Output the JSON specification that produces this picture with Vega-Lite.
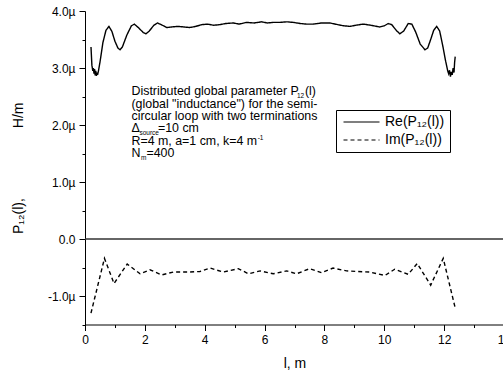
{
  "$schema": "https://vega.github.io/schema/vega-lite/v6.json",
  "width": 419,
  "height": 313.5,
  "autosize": "none",
  "padding": {"left": 85, "top": 11, "right": 0, "bottom": 54},
  "background": "white",
  "config": {
    "view": {"stroke": null},
    "font": "Liberation Sans",
    "axis": {"grid": false, "domainColor": "black", "tickColor": "black", "labelColor": "black", "titleColor": "black", "titleFontWeight": "normal", "labelFont": "Liberation Sans", "titleFont": "Liberation Sans"}
  },
  "datasets": {
    "curves": [
      {"l": 0.20, "v": 3.37, "s": "Re(P₁₂(l))"},
      {"l": 0.23, "v": 3.05, "s": "Re(P₁₂(l))"},
      {"l": 0.26, "v": 2.95, "s": "Re(P₁₂(l))"},
      {"l": 0.28, "v": 3.00, "s": "Re(P₁₂(l))"},
      {"l": 0.30, "v": 2.90, "s": "Re(P₁₂(l))"},
      {"l": 0.32, "v": 2.98, "s": "Re(P₁₂(l))"},
      {"l": 0.34, "v": 2.87, "s": "Re(P₁₂(l))"},
      {"l": 0.36, "v": 2.95, "s": "Re(P₁₂(l))"},
      {"l": 0.38, "v": 2.86, "s": "Re(P₁₂(l))"},
      {"l": 0.40, "v": 2.92, "s": "Re(P₁₂(l))"},
      {"l": 0.42, "v": 2.88, "s": "Re(P₁₂(l))"},
      {"l": 0.45, "v": 2.95, "s": "Re(P₁₂(l))"},
      {"l": 0.50, "v": 3.10, "s": "Re(P₁₂(l))"},
      {"l": 0.60, "v": 3.45, "s": "Re(P₁₂(l))"},
      {"l": 0.70, "v": 3.66, "s": "Re(P₁₂(l))"},
      {"l": 0.80, "v": 3.73, "s": "Re(P₁₂(l))"},
      {"l": 0.90, "v": 3.64, "s": "Re(P₁₂(l))"},
      {"l": 1.00, "v": 3.47, "s": "Re(P₁₂(l))"},
      {"l": 1.10, "v": 3.35, "s": "Re(P₁₂(l))"},
      {"l": 1.17, "v": 3.32, "s": "Re(P₁₂(l))"},
      {"l": 1.25, "v": 3.37, "s": "Re(P₁₂(l))"},
      {"l": 1.40, "v": 3.58, "s": "Re(P₁₂(l))"},
      {"l": 1.55, "v": 3.74, "s": "Re(P₁₂(l))"},
      {"l": 1.65, "v": 3.77, "s": "Re(P₁₂(l))"},
      {"l": 1.80, "v": 3.70, "s": "Re(P₁₂(l))"},
      {"l": 1.95, "v": 3.62, "s": "Re(P₁₂(l))"},
      {"l": 2.04, "v": 3.60, "s": "Re(P₁₂(l))"},
      {"l": 2.15, "v": 3.65, "s": "Re(P₁₂(l))"},
      {"l": 2.30, "v": 3.75, "s": "Re(P₁₂(l))"},
      {"l": 2.42, "v": 3.79, "s": "Re(P₁₂(l))"},
      {"l": 2.55, "v": 3.76, "s": "Re(P₁₂(l))"},
      {"l": 2.73, "v": 3.71, "s": "Re(P₁₂(l))"},
      {"l": 2.90, "v": 3.72, "s": "Re(P₁₂(l))"},
      {"l": 3.10, "v": 3.73, "s": "Re(P₁₂(l))"},
      {"l": 3.30, "v": 3.72, "s": "Re(P₁₂(l))"},
      {"l": 3.50, "v": 3.71, "s": "Re(P₁₂(l))"},
      {"l": 3.70, "v": 3.73, "s": "Re(P₁₂(l))"},
      {"l": 3.90, "v": 3.76, "s": "Re(P₁₂(l))"},
      {"l": 4.10, "v": 3.77, "s": "Re(P₁₂(l))"},
      {"l": 4.30, "v": 3.75, "s": "Re(P₁₂(l))"},
      {"l": 4.50, "v": 3.76, "s": "Re(P₁₂(l))"},
      {"l": 4.70, "v": 3.78, "s": "Re(P₁₂(l))"},
      {"l": 4.95, "v": 3.79, "s": "Re(P₁₂(l))"},
      {"l": 5.15, "v": 3.77, "s": "Re(P₁₂(l))"},
      {"l": 5.40, "v": 3.80, "s": "Re(P₁₂(l))"},
      {"l": 5.65, "v": 3.79, "s": "Re(P₁₂(l))"},
      {"l": 5.90, "v": 3.81, "s": "Re(P₁₂(l))"},
      {"l": 6.10, "v": 3.79, "s": "Re(P₁₂(l))"},
      {"l": 6.28, "v": 3.80, "s": "Re(P₁₂(l))"},
      {"l": 6.50, "v": 3.80, "s": "Re(P₁₂(l))"},
      {"l": 6.75, "v": 3.81, "s": "Re(P₁₂(l))"},
      {"l": 6.96, "v": 3.80, "s": "Re(P₁₂(l))"},
      {"l": 7.20, "v": 3.78, "s": "Re(P₁₂(l))"},
      {"l": 7.40, "v": 3.77, "s": "Re(P₁₂(l))"},
      {"l": 7.62, "v": 3.77, "s": "Re(P₁₂(l))"},
      {"l": 7.90, "v": 3.79, "s": "Re(P₁₂(l))"},
      {"l": 8.18, "v": 3.79, "s": "Re(P₁₂(l))"},
      {"l": 8.45, "v": 3.76, "s": "Re(P₁₂(l))"},
      {"l": 8.65, "v": 3.74, "s": "Re(P₁₂(l))"},
      {"l": 8.85, "v": 3.73, "s": "Re(P₁₂(l))"},
      {"l": 9.05, "v": 3.75, "s": "Re(P₁₂(l))"},
      {"l": 9.30, "v": 3.77, "s": "Re(P₁₂(l))"},
      {"l": 9.55, "v": 3.75, "s": "Re(P₁₂(l))"},
      {"l": 9.85, "v": 3.72, "s": "Re(P₁₂(l))"},
      {"l": 10.00, "v": 3.74, "s": "Re(P₁₂(l))"},
      {"l": 10.13, "v": 3.78, "s": "Re(P₁₂(l))"},
      {"l": 10.25, "v": 3.76, "s": "Re(P₁₂(l))"},
      {"l": 10.40, "v": 3.66, "s": "Re(P₁₂(l))"},
      {"l": 10.52, "v": 3.60, "s": "Re(P₁₂(l))"},
      {"l": 10.65, "v": 3.65, "s": "Re(P₁₂(l))"},
      {"l": 10.80, "v": 3.78, "s": "Re(P₁₂(l))"},
      {"l": 10.92, "v": 3.77, "s": "Re(P₁₂(l))"},
      {"l": 11.05, "v": 3.63, "s": "Re(P₁₂(l))"},
      {"l": 11.20, "v": 3.42, "s": "Re(P₁₂(l))"},
      {"l": 11.36, "v": 3.32, "s": "Re(P₁₂(l))"},
      {"l": 11.45, "v": 3.35, "s": "Re(P₁₂(l))"},
      {"l": 11.55, "v": 3.50, "s": "Re(P₁₂(l))"},
      {"l": 11.65, "v": 3.66, "s": "Re(P₁₂(l))"},
      {"l": 11.75, "v": 3.73, "s": "Re(P₁₂(l))"},
      {"l": 11.85, "v": 3.65, "s": "Re(P₁₂(l))"},
      {"l": 11.95, "v": 3.40, "s": "Re(P₁₂(l))"},
      {"l": 12.05, "v": 3.12, "s": "Re(P₁₂(l))"},
      {"l": 12.12, "v": 2.95, "s": "Re(P₁₂(l))"},
      {"l": 12.15, "v": 2.90, "s": "Re(P₁₂(l))"},
      {"l": 12.18, "v": 2.96, "s": "Re(P₁₂(l))"},
      {"l": 12.21, "v": 2.85, "s": "Re(P₁₂(l))"},
      {"l": 12.24, "v": 2.93, "s": "Re(P₁₂(l))"},
      {"l": 12.27, "v": 2.88, "s": "Re(P₁₂(l))"},
      {"l": 12.30, "v": 3.00, "s": "Re(P₁₂(l))"},
      {"l": 12.33, "v": 2.92, "s": "Re(P₁₂(l))"},
      {"l": 12.35, "v": 3.10, "s": "Re(P₁₂(l))"},
      {"l": 12.37, "v": 3.20, "s": "Re(P₁₂(l))"},
      {"l": 0.20, "v": -1.30, "s": "Im(P₁₂(l))"},
      {"l": 0.65, "v": -0.34, "s": "Im(P₁₂(l))"},
      {"l": 0.97, "v": -0.78, "s": "Im(P₁₂(l))"},
      {"l": 1.41, "v": -0.44, "s": "Im(P₁₂(l))"},
      {"l": 1.84, "v": -0.61, "s": "Im(P₁₂(l))"},
      {"l": 2.17, "v": -0.54, "s": "Im(P₁₂(l))"},
      {"l": 2.56, "v": -0.63, "s": "Im(P₁₂(l))"},
      {"l": 2.95, "v": -0.58, "s": "Im(P₁₂(l))"},
      {"l": 3.50, "v": -0.58, "s": "Im(P₁₂(l))"},
      {"l": 3.84, "v": -0.57, "s": "Im(P₁₂(l))"},
      {"l": 4.18, "v": -0.51, "s": "Im(P₁₂(l))"},
      {"l": 4.62, "v": -0.58, "s": "Im(P₁₂(l))"},
      {"l": 5.12, "v": -0.52, "s": "Im(P₁₂(l))"},
      {"l": 5.46, "v": -0.61, "s": "Im(P₁₂(l))"},
      {"l": 5.85, "v": -0.56, "s": "Im(P₁₂(l))"},
      {"l": 6.29, "v": -0.61, "s": "Im(P₁₂(l))"},
      {"l": 6.74, "v": -0.56, "s": "Im(P₁₂(l))"},
      {"l": 7.07, "v": -0.61, "s": "Im(P₁₂(l))"},
      {"l": 7.51, "v": -0.52, "s": "Im(P₁₂(l))"},
      {"l": 7.90, "v": -0.59, "s": "Im(P₁₂(l))"},
      {"l": 8.29, "v": -0.51, "s": "Im(P₁₂(l))"},
      {"l": 8.74, "v": -0.56, "s": "Im(P₁₂(l))"},
      {"l": 9.10, "v": -0.57, "s": "Im(P₁₂(l))"},
      {"l": 9.52, "v": -0.58, "s": "Im(P₁₂(l))"},
      {"l": 10.02, "v": -0.64, "s": "Im(P₁₂(l))"},
      {"l": 10.35, "v": -0.53, "s": "Im(P₁₂(l))"},
      {"l": 10.80, "v": -0.62, "s": "Im(P₁₂(l))"},
      {"l": 11.10, "v": -0.43, "s": "Im(P₁₂(l))"},
      {"l": 11.55, "v": -0.81, "s": "Im(P₁₂(l))"},
      {"l": 11.97, "v": -0.34, "s": "Im(P₁₂(l))"},
      {"l": 12.36, "v": -1.19, "s": "Im(P₁₂(l))"}
    ],
    "notes": [
      {"l": 1.553, "v": 2.520, "t": "Distributed global parameter P"},
      {"l": 7.348, "v": 2.520, "t": "(l)"},
      {"l": 1.553, "v": 2.305, "t": "(global \"inductance\") for the semi-"},
      {"l": 1.553, "v": 2.090, "t": "circular loop with two terminations"},
      {"l": 1.553, "v": 1.875, "t": "Δ"},
      {"l": 2.438, "v": 1.875, "t": "=10 cm"},
      {"l": 1.553, "v": 1.655, "t": "R=4 m, a=1 cm, k=4 m"},
      {"l": 1.553, "v": 1.435, "t": "N"},
      {"l": 2.054, "v": 1.435, "t": "=400"}
    ],
    "subs": [
      {"l": 7.081, "v": 2.467, "t": "12"},
      {"l": 1.820, "v": 1.830, "t": "source"},
      {"l": 5.770, "v": 1.742, "t": "-1"},
      {"l": 1.870, "v": 1.383, "t": "m"}
    ],
    "zero": [{"v": 0}]
  },
  "encoding": {
    "x": {
      "field": "l", "type": "quantitative",
      "scale": {"domain": [0, 14], "nice": false, "zero": false},
      "axis": {
        "title": "l, m",
        "values": [0, 1, 2, 3, 4, 5, 6, 7, 8, 9, 10, 11, 12, 13, 14],
        "labelExpr": "datum.value % 2 === 0 ? datum.label : ''",
        "tickSize": {"condition": {"test": "datum.value % 2 === 0", "value": 6}, "value": 3},
        "labelFontSize": 12, "labelPadding": 4, "labelFlush": false, "labelOverlap": false,
        "titleFontSize": 14, "titlePadding": 11
      }
    },
    "y": {
      "field": "v", "type": "quantitative",
      "scale": {"domain": [-1.5, 4], "nice": false, "zero": false},
      "axis": {
        "title": "P₁₂(l),\u00a0\u00a0\u00a0\u00a0\u00a0\u00a0\u00a0\u00a0\u00a0\u00a0\u00a0\u00a0\u00a0\u00a0\u00a0\u00a0\u00a0\u00a0H/m",
        "values": [-1.5, -1, -0.5, 0, 0.5, 1, 1.5, 2, 2.5, 3, 3.5, 4],
        "labelExpr": "datum.value % 1 !== 0 ? '' : (datum.value === 0 ? '0.0' : (datum.value < 0 ? '-' : '') + format(abs(datum.value), '.1f') + 'µ')",
        "tickSize": {"condition": {"test": "datum.value % 1 === 0", "value": 6}, "value": 3},
        "labelFontSize": 12, "labelPadding": 4, "labelOverlap": false,
        "titleFontSize": 14, "titlePadding": 22
      }
    }
  },
  "layer": [
    {
      "data": {"name": "zero"},
      "mark": {"type": "rule", "color": "#333333", "strokeWidth": 1.6},
      "encoding": {"x": null}
    },
    {
      "data": {"name": "curves"},
      "mark": {"type": "line", "color": "black", "strokeWidth": 1.4},
      "encoding": {
        "strokeDash": {
          "field": "s", "type": "nominal",
          "scale": {"domain": ["Re(P₁₂(l))", "Im(P₁₂(l))"], "range": [[1, 0], [4, 3]]},
          "legend": {
            "orient": "none", "legendX": 251, "legendY": 99, "title": null,
            "strokeColor": "black", "fillColor": "white", "padding": 5,
            "symbolType": "M-1,0H7", "symbolSize": 81, "symbolStrokeColor": "black", "symbolStrokeWidth": 1.1, "symbolFillColor": "transparent",
            "labelFontSize": 14, "labelColor": "black", "labelFont": "Liberation Sans", "rowPadding": 4, "labelOffset": 30
          }
        }
      }
    },
    {
      "data": {"name": "notes"},
      "mark": {"type": "text", "align": "left", "baseline": "alphabetic", "fontSize": 12.4, "color": "black", "font": "Liberation Sans"},
      "encoding": {"text": {"field": "t"}}
    },
    {
      "data": {"name": "subs"},
      "mark": {"type": "text", "align": "left", "baseline": "alphabetic", "fontSize": 6.5, "color": "black", "font": "Liberation Sans"},
      "encoding": {"text": {"field": "t"}}
    }
  ]
}
